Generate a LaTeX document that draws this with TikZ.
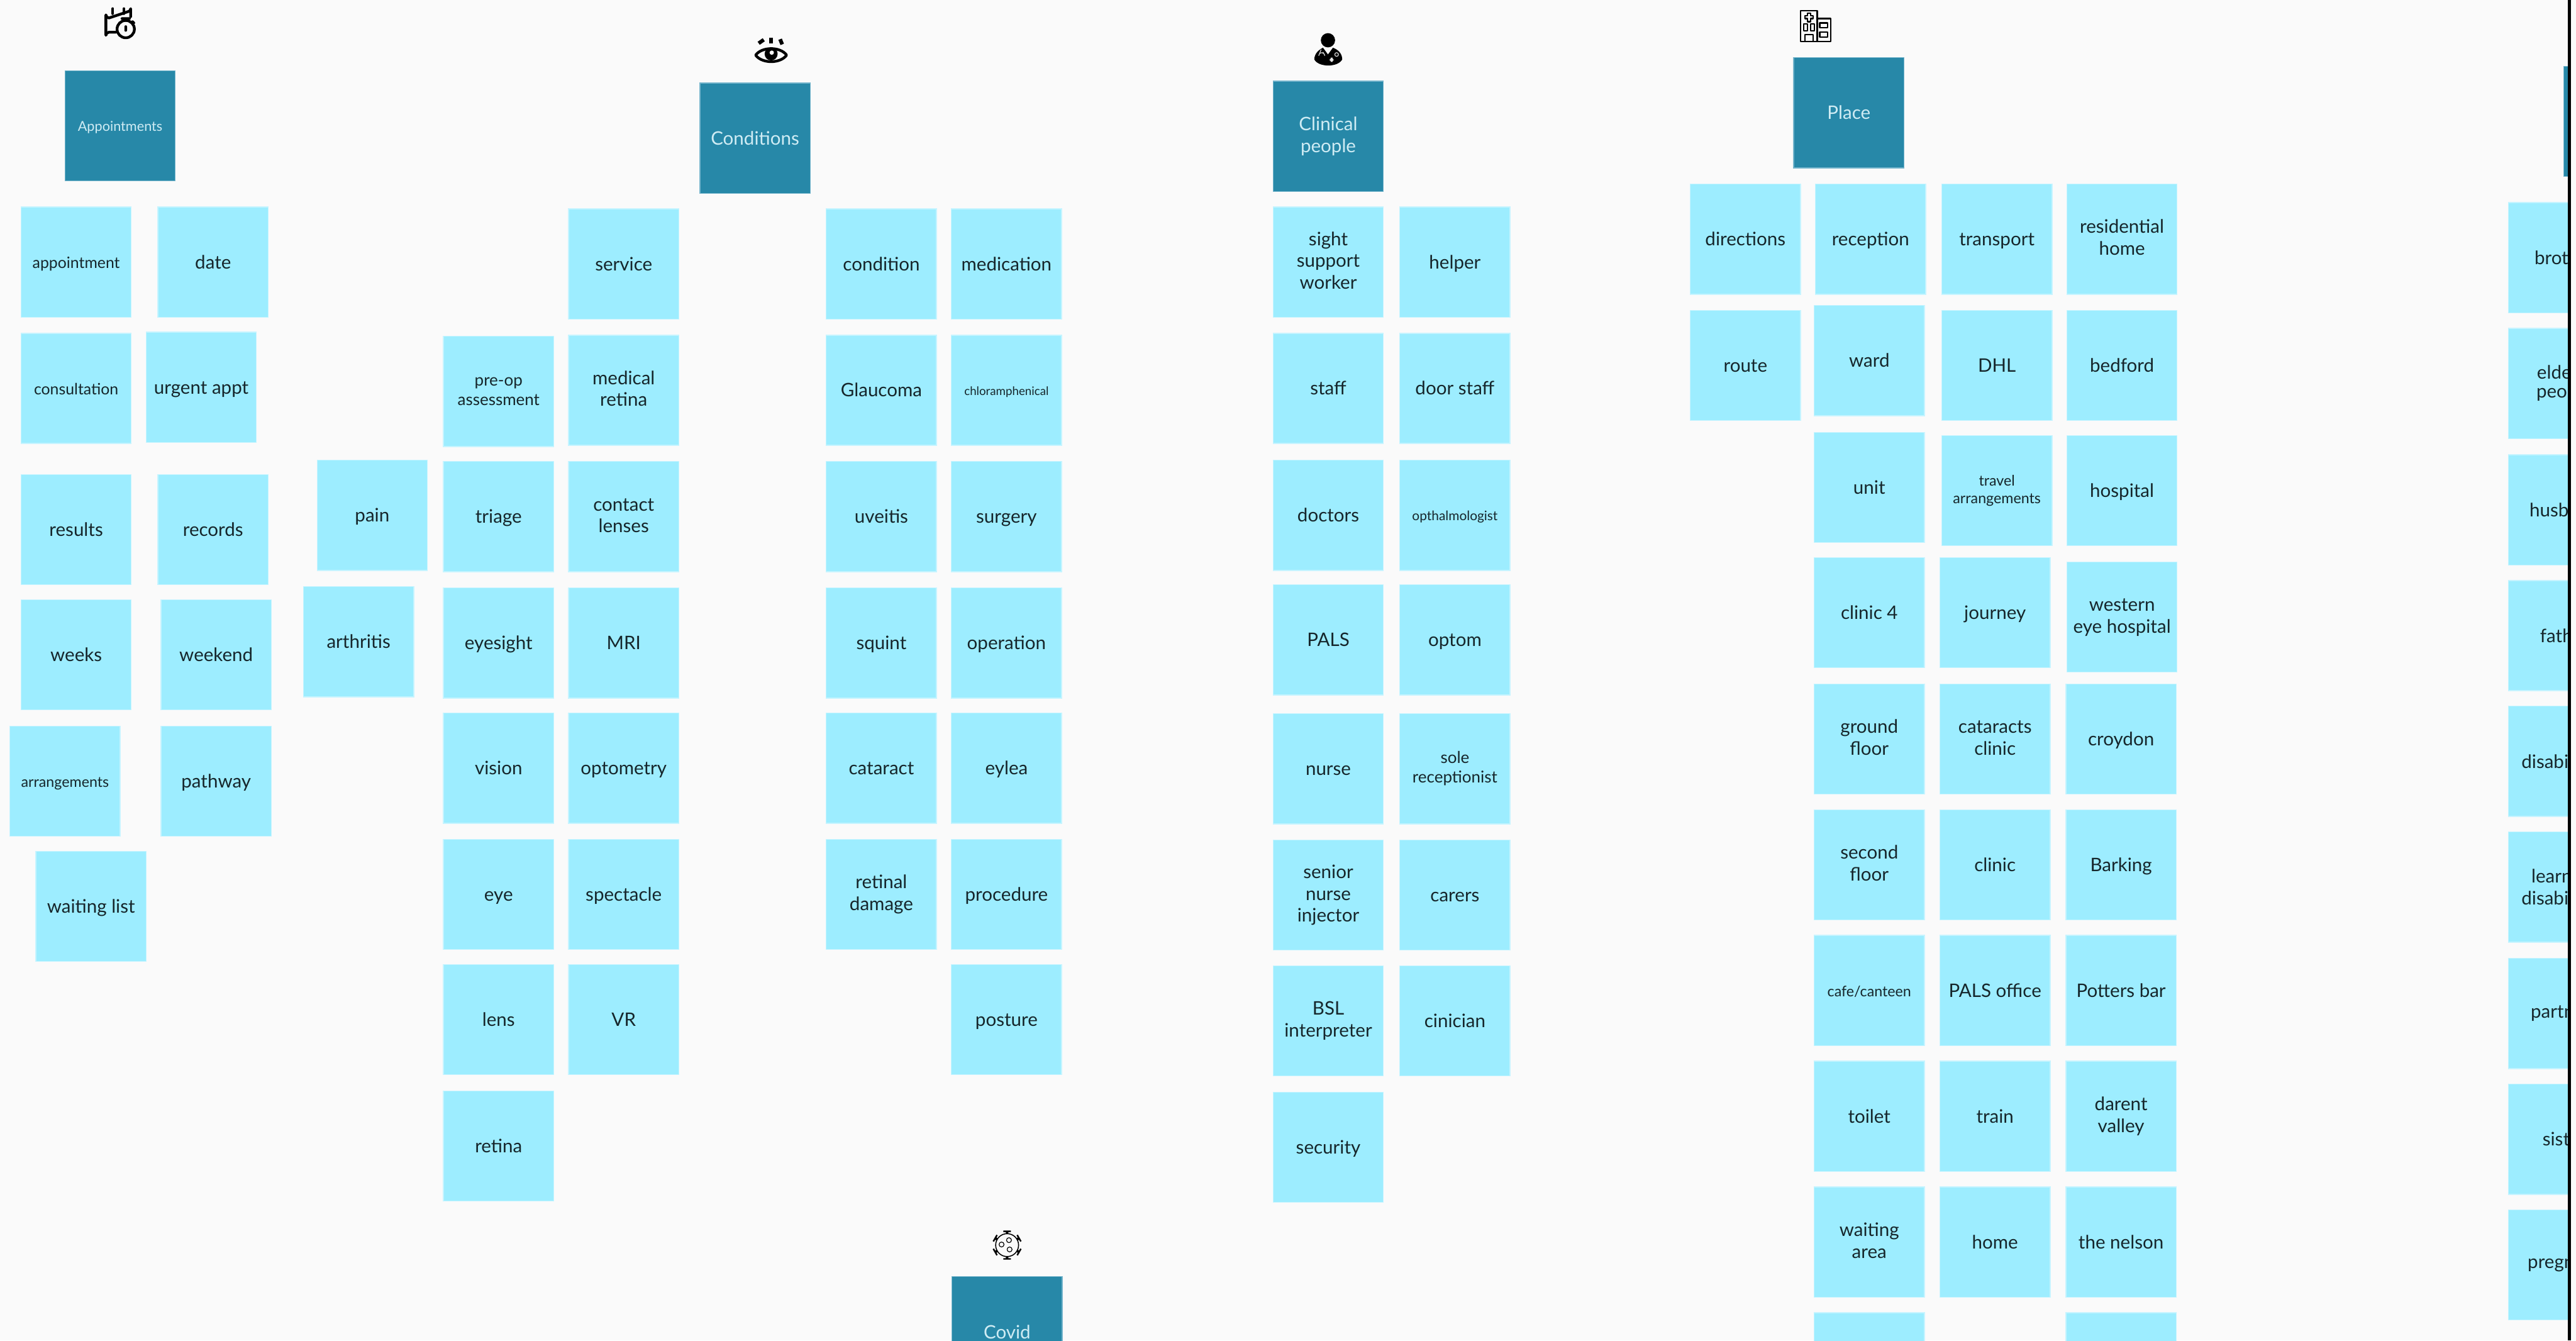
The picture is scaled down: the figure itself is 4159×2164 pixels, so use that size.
\documentclass[tikz,border=0pt]{standalone}
\usepackage{fontspec}
\setmainfont{Lato}
\definecolor{bgc}{HTML}{FAFAFA}
\definecolor{stickyc}{HTML}{9DEDFF}
\definecolor{stickyb}{HTML}{C6F4FF}
\definecolor{headc}{HTML}{2788A8}
\definecolor{headb}{HTML}{75B5CC}
\definecolor{headt}{HTML}{CFECF4}
\definecolor{inkc}{HTML}{16262B}
\newcommand\topstrutx{\rule{0pt}{\dimexpr0.7\baselineskip+1.8pt\relax}}
\newcommand\ml[1]{\raisebox{0.6pt}[0pt][0pt]{\begin{tabular}{@{}c@{}}#1\end{tabular}}}
\tikzset{
  x=0.25pt,y=-0.25pt,
  base/.style={anchor=north west,minimum width=44.5pt,minimum height=44.5pt,inner sep=0pt,outer sep=0pt,line width=0.35pt,execute at begin node=\topstrutx,execute at end node=\strut},
  st/.style={base,fill=stickyc,draw=stickyb,text=inkc,font=\fontsize{7.5}{8.8}\selectfont},
  stb/.style={st,font=\fontsize{6.3}{8}\selectfont},
  stm/.style={st,font=\fontsize{6.6}{7.8}\selectfont},
  sts/.style={st,font=\fontsize{5.9}{7.2}\selectfont},
  stt/.style={st,font=\fontsize{4.75}{5.8}\selectfont},
  sttb/.style={st,font=\fontsize{5.3}{6.4}\selectfont},
  head/.style={base,fill=headc,draw=headb,text=headt,font=\fontsize{7.5}{9}\selectfont},
  heads/.style={head,font=\fontsize{5.5}{7}\selectfont},
  cut/.style={anchor=west,inner sep=0pt,outer sep=0pt,text=inkc,font=\fontsize{7.5}{8.8}\selectfont},
  ico/.style={line width=1.1pt,draw=black,line cap=round,line join=round},
  icos/.style={line width=0.55pt,draw=black,line join=round},
}
\begin{document}
\begin{tikzpicture}
\useasboundingbox (0,0) rectangle (4159,2164);
\fill[bgc] (0,0) rectangle (4159,2164);
\begin{scope}
\clip (0,0) rectangle (4159,2164);
% headers
\node[heads] (hAppt) at (105,114) {Appointments};
\node[head] (hCond) at (1130,134) {Conditions};
\node[head] (hClin) at (2055.5,131) {\ml{Clinical\\people}};
\node[head] (hPlace) at (2896,93) {Place};
\node[head] (hCovid) at (1537,2061) {Covid};
\node[head] (hRight) at (4139,107) {};
% appointments
\node[stb] (appointment) at (34,334) {appointment};
\node[st] (date) at (255,334) {date};
\node[stb] (consultation) at (34,538) {consultation};
\node[st] (urgent) at (236,536) {urgent appt};
\node[st] (results) at (34,766) {results};
\node[st] (records) at (255,766) {records};
\node[st] (weeks) at (34,968) {weeks};
\node[st] (weekend) at (260,968) {weekend};
\node[sts] (arrangements) at (16,1172) {arrangements};
\node[st] (pathway) at (260,1172) {pathway};
\node[st] (waitinglist) at (58,1374) {waiting list};
% conditions, loose
\node[st] (pain) at (512,743) {pain};
\node[st] (arthritis) at (490,947) {arthritis};
\node[stm] (preop) at (716,543) {\ml{pre-op\\assessment}};
\node[st] (triage) at (716,745) {triage};
\node[st] (eyesight) at (716,949) {eyesight};
\node[st] (vision) at (716,1151) {vision};
\node[st] (eye) at (716,1355) {eye};
\node[st] (lens) at (716,1557) {lens};
\node[st] (retina) at (716,1761) {retina};
\node[st] (service) at (918,337) {service};
\node[st] (medretina) at (918,541) {\ml{medical\\retina}};
\node[st] (contact) at (918,745) {\ml{contact\\lenses}};
\node[st] (mri) at (918,949) {MRI};
\node[st] (optometry) at (918,1151) {optometry};
\node[st] (spectacle) at (918,1355) {spectacle};
\node[st] (vr) at (918,1557) {VR};
\node[st] (condition) at (1334,337) {condition};
\node[st] (glaucoma) at (1334,541) {Glaucoma};
\node[st] (uveitis) at (1334,745) {uveitis};
\node[st] (squint) at (1334,949) {squint};
\node[st] (cataract) at (1334,1151) {cataract};
\node[st] (retinal) at (1334,1355) {\ml{retinal\\damage}};
\node[st] (medication) at (1536,337) {medication};
\node[stt] (chloro) at (1536,541) {chloramphenical};
\node[st] (surgery) at (1536,745) {surgery};
\node[st] (operation) at (1536,949) {operation};
\node[st] (eylea) at (1536,1151) {eylea};
\node[st] (procedure) at (1536,1355) {procedure};
\node[st] (posture) at (1536,1557) {posture};
% clinical people
\node[st] (sight) at (2055.5,334) {\ml{sight\\support\\worker}};
\node[st] (staff) at (2055.5,538) {staff};
\node[st] (doctors) at (2055.5,743) {doctors};
\node[st] (pals) at (2055.5,944) {PALS};
\node[st] (nurse) at (2055.5,1152) {nurse};
\node[st] (senior) at (2055.5,1356) {\ml{senior\\nurse\\injector}};
\node[st] (bsl) at (2055.5,1559) {\ml{BSL\\interpreter}};
\node[st] (security) at (2055.5,1763) {security};
\node[st] (helper) at (2260,334) {helper};
\node[st] (door) at (2260,538) {door staff};
\node[sttb] (optha) at (2260,743) {opthalmologist};
\node[st] (optom) at (2260,944) {optom};
\node[stm] (sole) at (2260,1152) {\ml{sole\\receptionist}};
\node[st] (carers) at (2260,1356) {carers};
\node[st] (cinician) at (2260,1559) {cinician};
% place
\node[st] (directions) at (2729,297) {directions};
\node[st] (route) at (2729,501) {route};
\node[st] (reception) at (2931,297) {reception};
\node[st] (ward) at (2929,493) {ward};
\node[st] (unit) at (2929,698) {unit};
\node[st] (clinicfour) at (2929,900) {clinic 4};
\node[st] (ground) at (2929,1104) {\ml{ground\\floor}};
\node[st] (second) at (2929,1307) {\ml{second\\floor}};
\node[sts] (cafe) at (2929,1510) {cafe/canteen};
\node[st] (toilet) at (2929,1713) {toilet};
\node[st] (waitingarea) at (2929,1916) {\ml{waiting\\area}};
\node[st] (blankA) at (2929,2119) {};
\node[st] (transport) at (3135,297) {transport};
\node[st] (dhl) at (3135,501) {DHL};
\node[sts] (travel) at (3135,703) {\ml{travel\\arrangements}};
\node[st] (journey) at (3132,900) {journey};
\node[st] (cataracts) at (3132,1104) {\ml{cataracts\\clinic}};
\node[st] (clinic) at (3132,1307) {clinic};
\node[st] (palsoffice) at (3132,1510) {PALS office};
\node[st] (train) at (3132,1713) {train};
\node[st] (home) at (3132,1916) {home};
\node[st] (residential) at (3337,297) {\ml{residential\\home}};
\node[st] (bedford) at (3337,501) {bedford};
\node[st] (hospital) at (3337,703) {hospital};
\node[st] (western) at (3337,907) {\ml{western\\eye hospital}};
\node[st] (croydon) at (3335.5,1104) {croydon};
\node[st] (barking) at (3335.5,1307) {Barking};
\node[st] (potters) at (3335.5,1510) {Potters bar};
\node[st] (darent) at (3335.5,1713) {\ml{darent\\valley}};
\node[st] (nelson) at (3335.5,1916) {the nelson};
\node[st] (blankB) at (3335.5,2119) {};
% right-hand column, cut by the edge of the window
\node[st] (r1) at (4050,327) {};
\node[st] (r2) at (4050,530) {};
\node[st] (r3) at (4050,734) {};
\node[st] (r4) at (4050,937) {};
\node[st] (r5) at (4050,1140) {};
\node[st] (r6) at (4050,1343) {};
\node[st] (r7) at (4050,1547) {};
\node[st] (r8) at (4050,1750) {};
\node[st] (r9) at (4050,1953) {};
\node[cut] (t1) at (4092,416) {brot};
\node[cut] (t2a) at (4096,601) {elde};
\node[cut] (t2b) at (4095,637) {peo};
\node[cut] (t3) at (4084,823) {husb};
\node[cut] (t4) at (4101,1026) {fath};
\node[cut] (t5) at (4071,1229) {disabi};
\node[cut] (t6a) at (4087,1414) {learn};
\node[cut] (t6b) at (4071,1450) {disabi};
\node[cut] (t7) at (4086,1636) {partn};
\node[cut] (t8) at (4105,1839) {sist};
\node[cut] (t9) at (4081,2042) {pregn};
\fill[black] (4146,0) rectangle (4151,2164);
\fill[bgc] (4151,0) rectangle (4159,2164);
\end{scope}
% calendar with stopwatch icon
\draw[ico] (187,52) -- (176,52) arc[start angle=270,end angle=180,radius=5] -- (171,24) arc[start angle=180,end angle=90,radius=5] -- (206,19) arc[start angle=90,end angle=0,radius=5] -- (211,27);
\draw[ico] (182,14) -- (182,22) (200,14) -- (200,22);
\draw[ico] (203,47) circle[radius=14];
\draw[ico] (197,30) -- (209,30) (203,30) -- (203,33) (203,43) -- (203,49) (214,35) -- (216,37);
% eye icon
\draw[ico] (1220,89) .. controls (1230,75) and (1260,75) .. (1270,89) .. controls (1260,103) and (1230,103) .. (1220,89) -- cycle;
\fill[black] (1245,87) circle[radius=10.5];
\fill[bgc] (1246,85) circle[radius=3.5];
\fill[black] (1242,61) rectangle (1248,70);
\fill[black,rotate around={-55:(1229,67)}] (1226,62) rectangle (1232,72);
\fill[black,rotate around={22:(1261,67)}] (1258,63) rectangle (1264,72);
% doctor icon
\fill[black] (2144,65) circle[radius=11.5];
\fill[black] (2122,96) .. controls (2122,86) and (2130,80) .. (2136,77) -- (2144,88) -- (2152,77) .. controls (2160,80) and (2167,86) .. (2167,96) .. controls (2160,109) and (2129,109) .. (2122,96) -- cycle;
\draw[line width=0.3pt,draw=white!85!black] (2133,80) -- (2129,90) (2129,90) arc[start angle=180,end angle=360,radius=5] -- (2136,84);
\draw[line width=0.3pt,draw=white!85!black] (2158,88) circle[radius=3];
\fill[white!90!black] (2148.5,93) rectangle (2151.5,100) (2147,95) rectangle (2153,98);
% hospital icon
\draw[icos] (2907,17) rectangle (2934,67);
\draw[icos] (2934,30) rectangle (2956,67);
\draw[icos] (2918,21) -- (2923,21) -- (2923,25) -- (2927,25) -- (2927,30) -- (2923,30) -- (2923,35) -- (2918,35) -- (2918,30) -- (2914,30) -- (2914,25) -- (2918,25) -- cycle;
\draw[icos] (2912,39) rectangle (2918,50) (2923,39) rectangle (2929,50);
\draw[icos] (2914,67) -- (2914,56) -- (2927,56) -- (2927,67);
\draw[icos] (2938,37) rectangle (2951,45) (2938,52) rectangle (2951,60);
% virus icon
\draw[icos,line width=0.4pt] (1626,2010) circle[radius=18.5];
\draw[icos,line width=0.3pt] (1617,2009) circle[radius=4] (1629,2002) circle[radius=4] (1630,2017) circle[radius=4];
\foreach \a in {30,90,150,210,270,330}{
  \fill[black,rotate around={\a:(1626,2010)}] (1644,2008) rectangle (1648,2012) (1647,2004) rectangle (1649.5,2016);
}
\end{tikzpicture}
\end{document}
